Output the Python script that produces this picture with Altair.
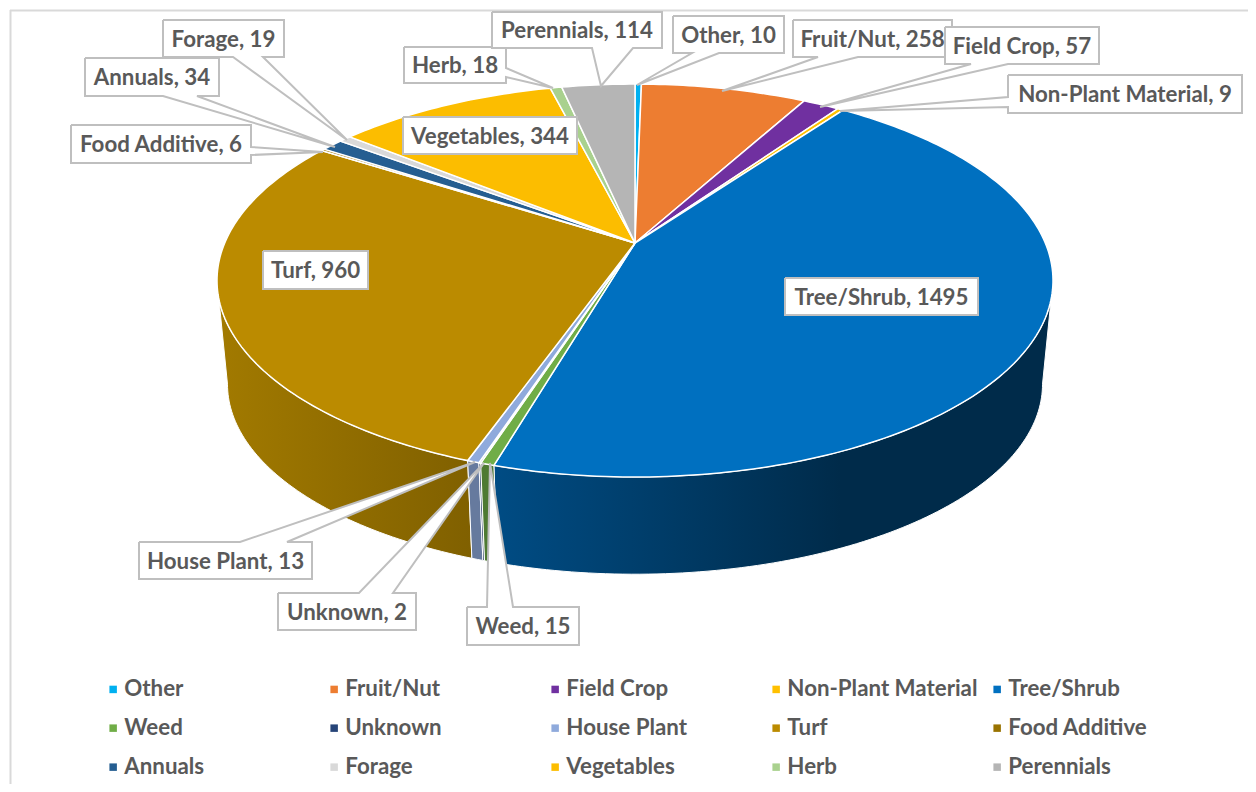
import numpy as np
import pandas as pd
import altair as alt

categories = ["Other", "Fruit/Nut", "Field Crop", "Non-Plant Material", "Tree/Shrub",
              "Weed", "Unknown", "House Plant", "Turf", "Food Additive",
              "Annuals", "Forage", "Vegetables", "Herb", "Perennials"]
values = [10, 258, 57, 9, 1495, 15, 2, 13, 960, 6, 34, 19, 344, 18, 114]
top_colors = ["#00B0F0", "#ED7D31", "#7030A0", "#FFC000", "#0070C0",
              "#70AD47", "#264478", "#8FAADC", "#BB8B00", "#997300",
              "#255E91", "#D9D9D9", "#FCBD00", "#A9D18E", "#B5B5B5"]

# perspective of the pie
CX, CY, A, B, K = 635.0, 243.0, 410.3, 189.3, -0.191
CY2, A2, B2 = 348.0, 400.0, 183.0


def project(deg, cy=CY, a=A, b=B):
    t = np.radians(deg)
    u, v = np.sin(t), -np.cos(t)
    d = 1 + K * v
    return CX + a * u / d, cy + b * v / d


def arc(start, end):
    n = max(2, int(abs(end - start)) + 2)
    return np.linspace(start, end, n)


total = sum(values)
edges = np.cumsum([0] + values) / total * 360.0
TANGENT_R = np.degrees(np.arccos(K))
TANGENT_L = 360.0 - TANGENT_R

# top faces
rows = []
for i, name in enumerate(categories):
    deg = arc(edges[i], edges[i + 1])
    xs, ys = project(deg)
    pts = [(CX, CY)] + list(zip(xs, ys)) + [(CX, CY)]
    for j, (x, y) in enumerate(pts):
        rows.append({"name": name, "i": j, "x": x, "y": y})
top = pd.DataFrame(rows)


def wall_frame(name):
    i = categories.index(name)
    s = max(edges[i], TANGENT_R)
    e = min(edges[i + 1], TANGENT_L)
    deg = arc(s, e)
    x1, y1 = project(deg)
    x2, y2 = project(deg[::-1], CY2, A2, B2)
    xs = list(x1) + list(x2) + [x1[0]]
    ys = list(y1) + list(y2) + [y1[0]]
    return pd.DataFrame({"name": name, "i": range(len(xs)), "x": xs, "y": ys})


W, H = 1240, 776
xs = alt.Scale(domain=[8, 8 + W], nice=False, zero=False)
ys = alt.Scale(domain=[8 + H, 8], nice=False, zero=False)
X = alt.X("x:Q", scale=xs, axis=None)
Y = alt.Y("y:Q", scale=ys, axis=None)


def lin(*stops):
    return alt.Gradient(gradient="linear", x1=0, x2=1, y1=0, y2=0,
                        stops=[alt.GradientStop(color=c, offset=o) for o, c in stops])


walls = [
    ("Tree/Shrub", lin((0, "#004C84"), (0.62, "#002B4A"), (1, "#002B4A"))),
    ("Turf", lin((0, "#A27A00"), (1, "#806000"))),
    ("House Plant", "#667A9E"),
    ("Unknown", "#1C3358"),
    ("Weed", "#4E7A32"),
]
wall_layers = [
    alt.Chart(wall_frame(n)).mark_line(fill=f, stroke="white", strokeWidth=1, interpolate="linear")
    .encode(x=X, y=Y, order=alt.Order("i:Q"))
    for n, f in walls
]

font = "Lato"
ink = "#595959"
size = 22.3
top_layer = alt.Chart(top).mark_line(filled=True, stroke="white", strokeWidth=1.5).encode(
    x=X, y=Y, order=alt.Order("i:Q"),
    color=alt.Color("name:N", scale=alt.Scale(domain=categories, range=top_colors), sort=categories,
                    legend=alt.Legend(title=None, orient="none", legendX=94, legendY=670, columns=5,
                                      direction="horizontal", gridAlign="all",
                                      symbolType="square", symbolSize=56, symbolStrokeWidth=0,
                                      labelFont=font, labelFontSize=size, labelFontWeight="bold",
                                      labelColor=ink, labelOffset=0, labelLimit=400,
                                      columnPadding=8, rowPadding=16)),
)

# callout layout: text, box left/right/top/bottom, pointer side, pointer base, pointer tip
label_text = ["Forage, 19", "Annuals, 34", "Food Additive, 6", "Herb, 18", "Perennials, 114",
              "Other, 10", "Fruit/Nut, 258", "Field Crop, 57", "Non-Plant Material, 9",
              "House Plant, 13", "Unknown, 2", "Weed, 15", "Vegetables, 344", "Turf, 960",
              "Tree/Shrub, 1495"]
label_box = [(163, 284, 20, 57), (85, 219, 58, 96), (71, 251, 125, 163), (404, 506, 47, 83),
             (492, 662, 12, 48), (673, 784, 16, 53), (793, 952, 20, 57), (945, 1099, 27, 64),
             (1008, 1242, 75, 113), (139, 312, 542, 579), (278, 416, 593, 630), (467, 579, 607, 645),
             (403, 577, 117, 154), (263, 368, 251, 289), (785, 978, 278, 315)]
label_side = ["bottom", "bottom", "right", "right", "bottom", "bottom", "bottom", "bottom", "left",
              "top", "top", "top", None, None, None]
label_base = [(233, 263), (163, 197), (147, 155), (68, 77), (592, 633), (692, 719), (818, 858),
              (971, 1008), (97, 107), (240, 287), (359, 393), (487, 513), None, None, None]
label_tip = [(347, 140), (335, 147), (323, 152), (553, 88), (601, 86), (637, 85), (722, 91),
             (820, 107), (840, 111), (475, 462), (484, 463), (490, 463), None, None, None]

rows = []
for n, (x0, x1, y0, y1) in enumerate(label_box):
    side, base, tip = label_side[n], label_base[n], label_tip[n]
    pts = [(x0, y0)]
    if side == "top":
        pts += [(base[0], y0), tip, (base[1], y0)]
    pts += [(x1, y0)]
    if side == "right":
        pts += [(x1, base[0]), tip, (x1, base[1])]
    pts += [(x1, y1)]
    if side == "bottom":
        pts += [(base[1], y1), tip, (base[0], y1)]
    pts += [(x0, y1)]
    if side == "left":
        pts += [(x0, base[1]), tip, (x0, base[0])]
    pts += [(x0, y0)]
    for j, (x, y) in enumerate(pts):
        rows.append({"label": n, "i": j, "x": x, "y": y})
callouts = pd.DataFrame(rows)

callout_layer = alt.Chart(callouts).mark_line(fill="white", stroke="#BFBFBF", strokeWidth=2).encode(
    x=X, y=Y, detail="label:N", order=alt.Order("i:Q"))

text_df = pd.DataFrame({
    "t": label_text,
    "x": [(b[0] + b[1]) / 2 for b in label_box],
    "y": [(b[2] + b[3]) / 2 for b in label_box],
})
text_layer = alt.Chart(text_df).mark_text(font=font, fontSize=size, fontWeight="bold", color=ink,
                                          align="center", baseline="middle", dy=1).encode(x=X, y=Y, text="t:N")

frame_v = alt.Chart(pd.DataFrame({"x": [10.5], "y": [10], "y2": [8 + H]})).mark_rule(
    color="#D9D9D9", strokeWidth=2).encode(x=X, y=Y, y2="y2:Q")
frame_h = alt.Chart(pd.DataFrame({"x": [10], "x2": [8 + W], "y": [10.5]})).mark_rule(
    color="#D9D9D9", strokeWidth=2).encode(x=X, x2="x2:Q", y=Y)

chart = alt.layer(frame_v, frame_h, *wall_layers, top_layer, callout_layer, text_layer).properties(
    width=W, height=H, padding=0, autosize=alt.AutoSizeParams(type="none"),
).configure_view(stroke=None)

chart.save("out.html", embed_options={"renderer": "svg", "actions": False})
